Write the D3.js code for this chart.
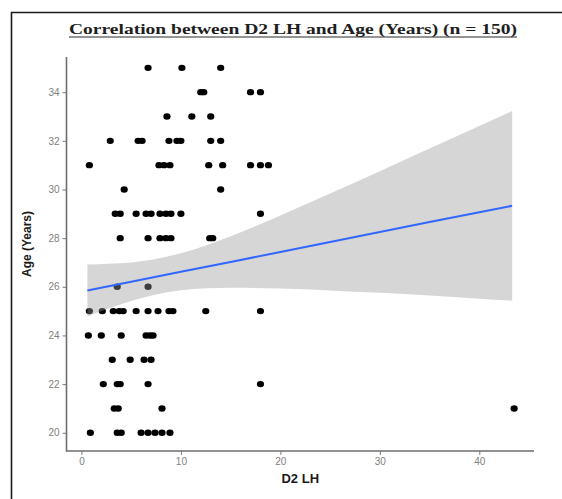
<!DOCTYPE html>
<html>
<head>
<meta charset="utf-8">
<script src="https://cdn.jsdelivr.net/npm/d3@7"></script>
<style>
  html, body { margin: 0; padding: 0; background: #fff; }
  svg { display: block; }
  .tick text { font-family: "Liberation Sans", Arial, sans-serif; font-size: 10px; fill: #808080; }
  .tick line { stroke: #7a7a7a; }
</style>
</head>
<body>
<div id="chart"></div>
<script>
// points, one array per age row
const d2lh = [
  6.7, 10.1, 14.0,
  12.0, 12.3, 17.0, 18.0,
  8.6, 11.1, 13.0,
  2.9, 5.7, 6.1, 8.8, 9.6, 10.0, 13.0, 14.0,
  0.8, 7.8, 8.3, 8.9, 12.8, 14.2, 17.0, 18.0, 18.8,
  4.3, 14.0,
  3.4, 3.9, 5.5, 6.5, 7.0, 7.9, 8.5, 9.0, 10.0, 18.0,
  3.9, 6.7, 7.9, 8.5, 9.0, 12.9, 13.2,
  3.6, 6.7,
  0.8, 2.1, 3.2, 3.8, 4.2, 5.5, 6.7, 7.7, 8.8, 9.2, 12.5, 18.0,
  0.7, 2.0, 4.0, 6.5, 6.9, 7.2,
  3.1, 4.9, 6.3, 7.0,
  2.2, 3.6, 3.9, 6.7, 18.0,
  3.3, 3.7, 8.1, 43.5,
  0.9, 3.6, 4.0, 6.0, 6.7, 7.4, 8.1, 8.9
];
const age = [
  35, 35, 35,
  34, 34, 34, 34,
  33, 33, 33,
  32, 32, 32, 32, 32, 32, 32, 32,
  31, 31, 31, 31, 31, 31, 31, 31, 31,
  30, 30,
  29, 29, 29, 29, 29, 29, 29, 29, 29, 29,
  28, 28, 28, 28, 28, 28, 28,
  26, 26,
  25, 25, 25, 25, 25, 25, 25, 25, 25, 25, 25, 25,
  24, 24, 24, 24, 24, 24,
  23, 23, 23, 23,
  22, 22, 22, 22, 22,
  21, 21, 21, 21,
  20, 20, 20, 20, 20, 20, 20, 20
];

// fitted line and its confidence band
const fitX     = [0.6, 5, 10, 15, 20, 25, 30, 35, 40, 43.3];
const fitY     = [25.85, 26.21, 26.62, 27.02, 27.43, 27.84, 28.25, 28.66, 29.06, 29.33];
const fitLower = [24.78, 25.42, 25.86, 25.96, 25.93, 25.85, 25.75, 25.64, 25.51, 25.43];
const fitUpper = [26.92, 27.00, 27.38, 28.08, 28.93, 29.83, 30.75, 31.68, 32.61, 33.23];

const xTicks = [0, 10, 20, 30, 40];
const yTicks = [20, 22, 24, 26, 28, 30, 32, 34];

const W = 562, H = 499;
const panel = { left: 66.5, right: 534, top: 57, bottom: 451 };

const svg = d3.select('#chart').append('svg')
  .attr('width', W)
  .attr('height', H);

svg.append('rect').attr('width', W).attr('height', H).attr('fill', '#fff');

// page frame
svg.append('path')
  .attr('d', `M11.5,${H} V12.5 H${W}`)
  .attr('fill', 'none')
  .attr('stroke', '#1a1a1a')
  .attr('stroke-width', 1.6);

const x = d3.scaleLinear().domain([-1.5, 45.7]).range([66.5, 536]);
const y = d3.scaleLinear().domain([19.25, 35.75]).range([451, 49.6]);

// title
svg.append('text')
  .attr('x', 69)
  .attr('y', 34)
  .attr('textLength', 448)
  .attr('lengthAdjust', 'spacingAndGlyphs')
  .style('font-family', '"Liberation Serif", "Times New Roman", serif')
  .style('font-weight', 'bold')
  .style('font-size', '15px')
  .style('fill', '#1e1e1e')
  .text('Correlation between D2 LH and Age (Years) (n = 150)');

svg.append('line')
  .attr('x1', 69).attr('x2', 517)
  .attr('y1', 37).attr('y2', 37)
  .attr('stroke', '#2a2a2a')
  .attr('stroke-width', 1.2);

// axes
const gx = svg.append('g')
  .attr('transform', `translate(0,${panel.bottom})`)
  .call(d3.axisBottom(x).tickValues(xTicks).tickSize(4).tickPadding(3));
gx.select('.domain').remove();

const gy = svg.append('g')
  .attr('transform', `translate(${panel.left},0)`)
  .call(d3.axisLeft(y).tickValues(yTicks).tickSize(4).tickPadding(3));
gy.select('.domain').remove();

svg.append('path')
  .attr('d', `M${panel.left},${panel.top} V${panel.bottom} H${panel.right}`)
  .attr('fill', 'none')
  .attr('stroke', '#6e6e6e')
  .attr('stroke-width', 1.6);

// points
svg.append('g')
  .selectAll('ellipse')
  .data(d2lh.map((v, i) => [v, age[i]]))
  .join('ellipse')
  .attr('cx', d => x(d[0]))
  .attr('cy', d => y(d[1]))
  .attr('rx', 3.6)
  .attr('ry', 3.2)
  .attr('fill', '#000');

// confidence band over the points, then the fit line
const bandRows = fitX.map((v, i) => ({ x: v, lo: fitLower[i], hi: fitUpper[i], fit: fitY[i] }));

svg.append('path')
  .datum(bandRows)
  .attr('d', d3.area()
    .curve(d3.curveMonotoneX)
    .x(d => x(d.x))
    .y0(d => y(d.lo))
    .y1(d => y(d.hi)))
  .attr('fill', '#999999')
  .attr('fill-opacity', 0.4);

svg.append('path')
  .datum(bandRows)
  .attr('d', d3.line().x(d => x(d.x)).y(d => y(d.fit)))
  .attr('fill', 'none')
  .attr('stroke', '#3366FF')
  .attr('stroke-width', 2);

// axis titles
svg.append('text')
  .attr('x', (panel.left + panel.right) / 2)
  .attr('y', 483)
  .attr('text-anchor', 'middle')
  .style('font-family', '"Liberation Sans", Arial, sans-serif')
  .style('font-weight', 'bold')
  .style('font-size', '13px')
  .style('fill', '#1a1a1a')
  .text('D2 LH');

svg.append('text')
  .attr('transform', `translate(31,244) rotate(-90)`)
  .attr('text-anchor', 'middle')
  .style('font-family', '"Liberation Sans", Arial, sans-serif')
  .style('font-weight', 'bold')
  .style('font-size', '12px')
  .style('fill', '#1a1a1a')
  .text('Age (Years)');
</script>
</body>
</html>
